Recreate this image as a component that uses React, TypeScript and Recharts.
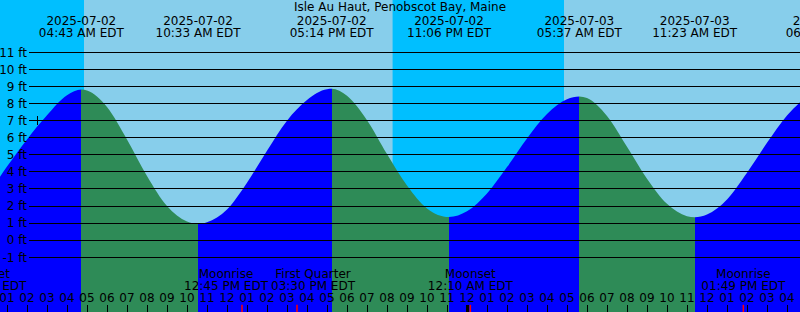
import React from 'react';
import {
  ComposedChart,
  Area,
  XAxis,
  YAxis,
  ReferenceArea,
  ReferenceLine,
} from 'recharts';

document.body.style.margin = '0';

const WIDTH = 800;
const HEIGHT = 312;
const FONT = '"DejaVu Sans", Verdana, sans-serif';

const TITLE = 'Isle Au Haut, Penobscot Bay, Maine';

// time axis = hours since 2025-07-02 00:00 EDT
const T_MIN = 0.65;
const T_MAX = 40.65;
const Y_MIN = -4.2;
const Y_MAX = 14.06;
const GRID_START = 2.1;
const TICK_TOP = -3.78;

// tide height (ft), hourly plus the highs and lows
const HOURS = [
  0.65, 1, 2, 3, 4, 4.717,
  5, 6, 7, 8, 9, 10, 10.55,
  11, 12, 13, 14, 15, 16, 17, 17.233,
  18, 19, 20, 21, 22, 23.1,
  24, 25, 26, 27, 28, 29, 29.617,
  30, 31, 32, 33, 34, 35, 35.383,
  36, 37, 38, 39, 40, 40.65,
];
const HEIGHT_FT = [
  3.72, 4.31, 5.9, 7.31, 8.48, 8.82,
  8.76, 7.8, 5.9, 3.76, 2.0, 1.1, 0.96,
  1.05, 1.8, 3.37, 5.24, 7.0, 8.21, 8.84, 8.86,
  8.45, 7.02, 5.04, 3.2, 1.86, 1.36,
  1.69, 2.74, 4.28, 5.96, 7.39, 8.25, 8.41,
  8.32, 7.27, 5.47, 3.6, 2.13, 1.41, 1.35,
  1.51, 2.39, 3.95, 5.7, 7.3, 8.08,
];

const TIDE_HOURS = [4.717, 10.55, 17.233, 23.1, 29.617, 35.383, 42.033];
const TIDE_KIND = ['high', 'low', 'high', 'low', 'high', 'low', 'high'];
const TIDE_DATES = [
  '2025-07-02', '2025-07-02', '2025-07-02', '2025-07-02',
  '2025-07-03', '2025-07-03', '2025-07-03',
];
const TIDE_TIMES = [
  '04:43 AM EDT', '10:33 AM EDT', '05:14 PM EDT', '11:06 PM EDT',
  '05:37 AM EDT', '11:23 AM EDT', '06:02 PM EDT',
];

// sunrise / sunset
const DAYLIGHT = [
  [4.85, 20.28],
  [28.85, 40.65],
];

const MOON_HOURS = [-0.13, 12.75, 15.5, 24.167, 37.817];
const MOON_EVENTS = ['Moonset', 'Moonrise', 'First Quarter', 'Moonset', 'Moonrise'];
const MOON_TIMES = ['11:52 PM EDT', '12:45 PM EDT', '03:30 PM EDT', '12:10 AM EDT', '01:49 PM EDT'];
// labels pushed apart where they would overlap (px)
const MOON_LABEL_SHIFT = [0, -16, 16, 0, 0];

const FT_TICKS = [-1, 0, 1, 2, 3, 4, 5, 6, 7, 8, 9, 10, 11];
const HOUR_TICKS = [
  1, 2, 3, 4, 5, 6, 7, 8, 9, 10, 11, 12, 13, 14, 15, 16, 17, 18, 19, 20,
  21, 22, 23, 24, 25, 26, 27, 28, 29, 30, 31, 32, 33, 34, 35, 36, 37, 38, 39, 40,
];
const MIDNIGHT = 24;
const NOW_MARK = 2.5;

const FLOOD = '#0000ff';
const EBB = '#2e8b57';
const DAY_SKY = '#87ceeb';
const NIGHT_SKY = '#00bfff';

const data = HOURS.map((t, i) => ({ t, ft: HEIGHT_FT[i] }));

// flood / ebb colour switches at each high and low
const stops: { offset: number; color: string }[] = [];
let current = TIDE_KIND[0] === 'high' ? FLOOD : EBB;
stops.push({ offset: 0, color: current });
TIDE_HOURS.forEach((t, i) => {
  if (t <= T_MIN || t >= T_MAX) return;
  const o = (t - T_MIN) / (T_MAX - T_MIN);
  stops.push({ offset: o, color: current });
  current = TIDE_KIND[i] === 'high' ? EBB : FLOOD;
  stops.push({ offset: o, color: current });
});
stops.push({ offset: 1, color: current });

const hourLabel = (h: number) => {
  const v = h % 12 === 0 ? 12 : h % 12;
  return v < 10 ? `0${v}` : `${v}`;
};

const textStyle = { fontFamily: FONT, fontSize: 12, fill: '#000' };

const centerX = (props: any) => {
  const vb = props && props.viewBox ? props.viewBox : { x: 0, width: 0 };
  return vb.x + (vb.width || 0) / 2;
};

export default function App() {
  return (
    <div style={{ width: WIDTH, height: HEIGHT, background: NIGHT_SKY, fontFamily: FONT, fontSize: 12 }}>
      <ComposedChart
        width={WIDTH}
        height={HEIGHT}
        data={data}
        margin={{ top: 0, right: 0, bottom: 0, left: 0 }}
      >
        <defs>
          <linearGradient id="tideFill" x1="0" y1="0" x2="1" y2="0">
            {stops.map((s, i) => (
              <stop key={i} offset={s.offset} stopColor={s.color} />
            ))}
          </linearGradient>
        </defs>
        <XAxis
          dataKey="t"
          type="number"
          domain={[T_MIN, T_MAX]}
          allowDataOverflow
          ticks={HOUR_TICKS}
          tickFormatter={hourLabel}
          mirror
          axisLine={false}
          tickSize={7}
          tickMargin={3}
          tickLine={{ stroke: '#000', shapeRendering: 'crispEdges' }}
          tick={textStyle}
          interval={0}
        />
        <YAxis type="number" domain={[Y_MIN, Y_MAX]} allowDataOverflow hide />

        {DAYLIGHT.map(([a, b], i) => (
          <ReferenceArea
            key={`day-${i}`}
            x1={a}
            x2={b}
            y1={Y_MIN}
            y2={Y_MAX}
            fill={DAY_SKY}
            fillOpacity={1}
            stroke="none"
            ifOverflow="hidden"
          />
        ))}

        <Area
          dataKey="ft"
          type="monotone"
          stroke="none"
          fill="url(#tideFill)"
          fillOpacity={1}
          baseValue={Y_MIN}
          dot={false}
          activeDot={false}
          isAnimationActive={false}
        />

        {FT_TICKS.map((v) => (
          <ReferenceLine
            key={`ft-${v}`}
            segment={[
              { x: GRID_START, y: v },
              { x: T_MAX, y: v },
            ]}
            stroke="#000"
            strokeWidth={1}
            shapeRendering="crispEdges"
            ifOverflow="visible"
            label={{ value: `${v} ft`, position: 'left', offset: 2, ...textStyle }}
          />
        ))}

        <ReferenceLine
          segment={[
            { x: NOW_MARK, y: 6.75 },
            { x: NOW_MARK, y: 7.3 },
          ]}
          stroke="#000"
          strokeWidth={1}
          shapeRendering="crispEdges"
        />

        <ReferenceLine
          segment={[
            { x: MIDNIGHT, y: Y_MIN },
            { x: MIDNIGHT, y: TICK_TOP },
          ]}
          stroke="#000"
          strokeWidth={3}
          shapeRendering="crispEdges"
        />

        {MOON_HOURS.map((t, i) => (
          <ReferenceLine
            key={`moon-${i}`}
            segment={[
              { x: t, y: Y_MIN },
              { x: t, y: TICK_TOP },
            ]}
            stroke="#ff0000"
            strokeWidth={1.5}
            ifOverflow="visible"
            label={(p: any) => {
              const x = centerX(p) + MOON_LABEL_SHIFT[i];
              return (
                <g>
                  <text x={x} y={278} textAnchor="middle" {...textStyle}>
                    {MOON_EVENTS[i]}
                  </text>
                  <text x={x} y={290} textAnchor="middle" {...textStyle}>
                    {MOON_TIMES[i]}
                  </text>
                </g>
              );
            }}
          />
        ))}

        {TIDE_HOURS.map((t, i) => (
          <ReferenceLine
            key={`tide-${i}`}
            x={t}
            stroke="none"
            ifOverflow="visible"
            label={(p: any) => {
              const x = centerX(p);
              return (
                <g>
                  <text x={x} y={25} textAnchor="middle" {...textStyle}>
                    {TIDE_DATES[i]}
                  </text>
                  <text x={x} y={37} textAnchor="middle" {...textStyle}>
                    {TIDE_TIMES[i]}
                  </text>
                </g>
              );
            }}
          />
        ))}

        <ReferenceLine
          x={(T_MIN + T_MAX) / 2}
          stroke="none"
          label={(p: any) => (
            <text x={centerX(p)} y={11} textAnchor="middle" {...textStyle}>
              {TITLE}
            </text>
          )}
        />
      </ComposedChart>
    </div>
  );
}
